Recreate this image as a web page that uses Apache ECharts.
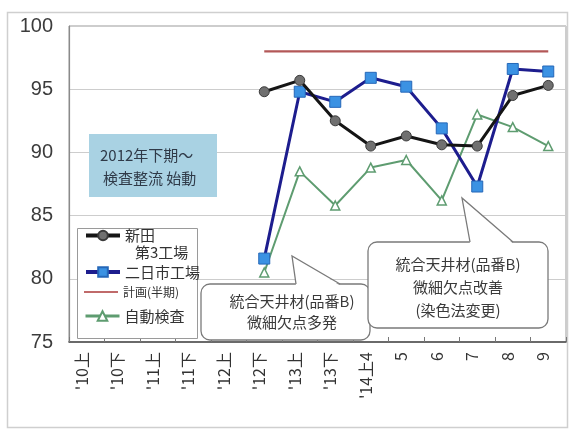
<!DOCTYPE html>
<html>
<head>
<meta charset="utf-8">
<script src="https://cdn.jsdelivr.net/npm/echarts@6.0.0/dist/echarts.min.js"></script>
<style>
  html, body { margin: 0; padding: 0; background: #fff; }
  #chart { width: 569px; height: 430px; }
</style>
</head>
<body>
<div id="chart"></div>
<script>
// Half-year periods, then monthly from '14上 (April) onward
const categories = ["'10上", "'10下", "'11上", "'11下", "'12上", "'12下", "'13上", "'13下", "'14上4", "5", "6", "7", "8", "9"];
const yMin = 75;
const yMax = 100;
const yStep = 5;

// Yield (%) per plant / line
const shinden = [null, null, null, null, null, 94.8, 95.7, 92.5, 90.5, 91.3, 90.6, 90.5, 94.5, 95.3];
const futsukaichi = [null, null, null, null, null, 81.6, 94.8, 94.0, 95.9, 95.2, 91.9, 87.3, 96.6, 96.4];
const plan = [null, null, null, null, null, 98, 98, 98, 98, 98, 98, 98, 98, 98];
const autoInspection = [null, null, null, null, null, 80.5, 88.5, 85.8, 88.8, 89.4, 86.2, 93.0, 92.0, 90.5];

const seriesNames = ['新田第3工場', '二日市工場', '計画(半期)', '自動検査'];

const NUM_FONT = '"Liberation Sans", Arial, sans-serif';
const JP_FONT = '"Noto Sans CJK JP", "Liberation Sans", sans-serif';

const chart = echarts.init(document.getElementById('chart'), null, { renderer: 'canvas' });

// Rounded callout box with a pointer tail on its top edge
function callout(box, tail, lines, textX, lineYs, z) {
  const els = [
    {
      type: 'rect', z: z,
      shape: { x: box[0], y: box[1], width: box[2], height: box[3], r: 9 },
      style: { fill: '#fff', stroke: '#7a7a7a', lineWidth: 1.3 }
    },
    {
      type: 'polygon', z: z,
      shape: { points: [[tail[0][0], box[1] + 1.5], tail[1], [tail[2][0], box[1] + 1.5]] },
      style: { fill: '#fff', stroke: null }
    },
    {
      type: 'polyline', z: z,
      shape: { points: [[tail[0][0], box[1]], tail[1], [tail[2][0], box[1]]] },
      style: { stroke: '#7a7a7a', lineWidth: 1.3, fill: null }
    }
  ];
  lines.forEach(function (t, i) {
    els.push({
      type: 'text', z: z,
      style: {
        text: t, x: textX, y: lineYs[i],
        textAlign: 'center', textVerticalAlign: 'middle',
        font: '15px ' + JP_FONT, fill: '#3a3a3a'
      }
    });
  });
  return els;
}

const graphics = [
  // outer frame
  {
    type: 'rect', z: 0, silent: true,
    shape: { x: 7.5, y: 12.5, width: 560, height: 415 },
    style: { fill: null, stroke: '#cfcfcf', lineWidth: 1.5 }
  },
  // legend panel behind the legend entries
  {
    type: 'rect', z: 7, silent: true,
    shape: { x: 77.5, y: 228.5, width: 120, height: 110 },
    style: { fill: '#fff', stroke: '#9a9a9a', lineWidth: 1 }
  },
  // start-of-initiative note
  {
    type: 'rect', z: 5,
    shape: { x: 89, y: 134, width: 128, height: 63 },
    style: { fill: '#a9d2e3', stroke: null }
  },
  {
    type: 'text', z: 6,
    style: { text: '2012年下期～', x: 100, y: 155, textVerticalAlign: 'middle', font: '15px ' + JP_FONT, fill: '#2f3a48' }
  },
  {
    type: 'text', z: 6,
    style: { text: '検査整流 始動', x: 103, y: 178, textVerticalAlign: 'middle', font: '15px ' + JP_FONT, fill: '#2f3a48' }
  }
]
  .concat(callout([201, 284, 169, 56], [[296, 0], [292, 256], [340, 0]],
    ['統合天井材(品番B)', '微細欠点多発'], 292, [301, 322], 10))
  .concat(callout([368, 242, 180, 86], [[470, 0], [462, 198], [513, 0]],
    ['統合天井材(品番B)', '微細欠点改善', '(染色法変更)'], 458, [264, 287, 310], 11));

// One legend entry per component so each row sits at its own height
function legendEntry(name, top, fontSize, lineHeight, iconLine, formatter, rich) {
  return {
    orient: 'vertical',
    left: 84, top: top,
    padding: 0,
    itemWidth: 34, itemHeight: 12, itemGap: 0,
    z: 8,
    data: [name],
    lineStyle: { width: iconLine },
    formatter: formatter || '{name}',
    textStyle: {
      color: '#333', fontFamily: JP_FONT, fontSize: fontSize, lineHeight: lineHeight,
      rich: rich || {}
    }
  };
}

// the plan row shows a plain line sample, no marker
const planLegend = legendEntry(seriesNames[2], 285, 12, 14, 2);
planLegend.data = [{ name: seriesNames[2], icon: 'rect' }];
planLegend.itemHeight = 2;
planLegend.itemStyle = { color: '#c06a6a' };

const legends = [
  // blank first line keeps the icon level with "新田" while "第3工場" wraps below
  legendEntry(seriesNames[0], 210, 15, 17, 4, '{s| }\n{a|新田}\n{b|第3工場}', {
    s: { fontSize: 15, lineHeight: 17 },
    a: { fontSize: 15, lineHeight: 17, fontFamily: JP_FONT, color: '#333' },
    b: { fontSize: 15, lineHeight: 17, fontFamily: JP_FONT, color: '#333', padding: [0, 0, 0, 10] }
  }),
  legendEntry(seriesNames[1], 263, 15, 18, 4),
  planLegend,
  legendEntry(seriesNames[3], 307, 15, 18, 3)
];

const option = {
  animation: false,
  backgroundColor: '#fff',
  grid: {
    left: 69, right: 3, top: 26, bottom: 88,
    show: true, borderColor: '#9a9a9a', borderWidth: 1
  },
  legend: legends,
  xAxis: {
    type: 'category',
    data: categories,
    boundaryGap: true,
    axisLine: { show: true, lineStyle: { color: '#4a4a4a', width: 1.6 } },
    axisTick: { show: true, inside: true, length: 5, lineStyle: { color: '#777' } },
    axisLabel: {
      rotate: 90, margin: 10, interval: 0,
      verticalAlign: 'bottom', lineHeight: 10,
      color: '#333', fontSize: 16, fontFamily: JP_FONT
    },
    splitLine: { show: false }
  },
  yAxis: {
    type: 'value',
    min: yMin, max: yMax, interval: yStep,
    axisLine: { show: true, lineStyle: { color: '#8a8a8a', width: 1.2 } },
    axisTick: { show: false },
    axisLabel: { color: '#3c3c3c', fontSize: 20, fontFamily: NUM_FONT, margin: 16 },
    splitLine: { show: true, lineStyle: { color: '#cdcdcd', width: 1 } }
  },
  series: [
    {
      name: seriesNames[0], type: 'line', data: shinden, z: 4,
      symbol: 'circle', symbolSize: 10,
      lineStyle: { color: '#151515', width: 3 },
      itemStyle: { color: '#707070', borderColor: '#3a3a3a', borderWidth: 1 }
    },
    {
      name: seriesNames[1], type: 'line', data: futsukaichi, z: 3,
      symbol: 'rect', symbolSize: 11,
      lineStyle: { color: '#1d1d8e', width: 3 },
      itemStyle: { color: '#3b92e3', borderColor: '#2567b8', borderWidth: 1 }
    },
    {
      name: seriesNames[2], type: 'line', data: plan, z: 2,
      symbol: 'none', showSymbol: false,
      lineStyle: { color: '#b35858', width: 2.2 },
      itemStyle: { color: '#b35858' }
    },
    {
      name: seriesNames[3], type: 'line', data: autoInspection, z: 2,
      symbol: 'triangle', symbolSize: 9,
      lineStyle: { color: '#5e9c70', width: 2 },
      itemStyle: { color: '#ffffff', borderColor: '#5e9c70', borderWidth: 1.5 }
    }
  ],
  graphic: graphics
};

chart.setOption(option);
</script>
</body>
</html>
